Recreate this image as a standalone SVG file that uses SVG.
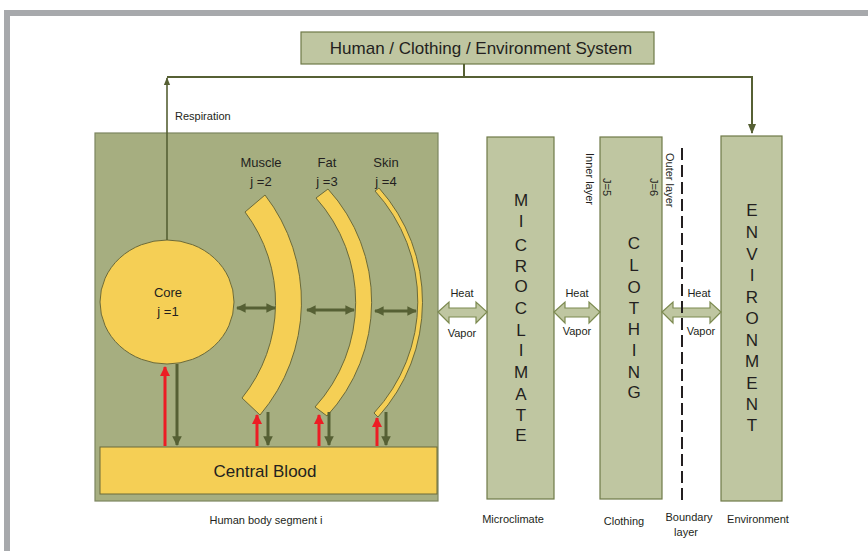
<svg xmlns="http://www.w3.org/2000/svg" width="868" height="551" viewBox="0 0 868 551">
<style>
text{font-family:"Liberation Sans",Arial,sans-serif;fill:#231f20}
.box{fill:#bfc6a1;stroke:#6f7a48;stroke-width:1.2}
.body{fill:#a6ae80;stroke:#7c8560;stroke-width:1.2}
.yel{fill:#f5cf55;stroke:#6b6a3a;stroke-width:1}
.dk{stroke:#566034;stroke-width:3;fill:none}
.rd{stroke:#ed1c24;stroke-width:3;fill:none}
.ln{stroke:#566034;stroke-width:2;fill:none}
.hv{fill:#bfc6a1;stroke:#7c8a50;stroke-width:1.2}
.sm{font-size:11px}
.md{font-size:13px}
.big{font-size:17px;text-anchor:middle}
.c{text-anchor:middle}
</style>
<defs>
<marker id="dh" viewBox="0 0 10 10" refX="9" refY="5" markerWidth="3.2" markerHeight="3.2" orient="auto-start-reverse"><path d="M0,0 L10,5 L0,10 Z" fill="#566034"/></marker>
<marker id="rh" viewBox="0 0 10 10" refX="9" refY="5" markerWidth="3.4" markerHeight="3.4" orient="auto"><path d="M0,0 L10,5 L0,10 Z" fill="#ed1c24"/></marker>
<marker id="th" viewBox="0 0 10 10" refX="9" refY="5" markerWidth="5" markerHeight="5" orient="auto"><path d="M0,1 L10,5 L0,9 Z" fill="#566034"/></marker>
</defs>
<rect width="868" height="551" fill="#ffffff"/>
<path d="M7,551 V13 H868" fill="none" stroke="#a7a9ac" stroke-width="6"/>

<g id="system">
<rect class="box" x="301" y="32" width="353" height="32"/>
<text x="481" y="54" font-size="17" class="c">Human / Clothing / Environment System</text>
</g>

<g id="respiration-label"><text class="sm" x="175" y="120">Respiration</text></g>

<g id="body">
<rect class="body" x="95" y="133" width="343" height="368"/>
</g>

<g id="core">
<ellipse class="yel" cx="167" cy="302" rx="67" ry="62"/>
<text class="md c" x="168" y="297">Core</text>
<text class="md c" x="168" y="316">j =1</text>
</g>

<g id="muscle">
<path class="yel" d="M265,195 A175,175 0 0 1 260,415 L242,398 A151,151 0 0 0 245,212 Z"/>
<text class="md c" x="261" y="167">Muscle</text>
<text class="md c" x="261" y="186">j =2</text>
</g>

<g id="fat">
<path class="yel" d="M328,189 A168,168 0 0 1 327,416 L315,407 A156,156 0 0 0 316,198 Z"/>
<text class="md c" x="327" y="167">Fat</text>
<text class="md c" x="327" y="186">j =3</text>
</g>

<g id="skin">
<path class="yel" d="M379,188 A171,171 0 0 1 378,417 L374,413 A164,164 0 0 0 375,191 Z"/>
<text class="md c" x="386" y="167">Skin</text>
<text class="md c" x="386" y="186">j =4</text>
</g>

<g id="central-blood">
<rect class="yel" x="100" y="447" width="337" height="47"/>
<text x="265" y="477" font-size="17" class="c">Central Blood</text>
</g>
<g id="body-label"><text class="sm c" x="266" y="524">Human body segment i</text></g>

<g id="microclimate">
<rect class="box" x="487" y="137" width="67" height="362"/>
<g class="big">
<text x="521" y="206">M</text><text x="521" y="227">I</text><text x="521" y="251">C</text><text x="521" y="272">R</text><text x="521" y="292">O</text><text x="521" y="314">C</text><text x="521" y="336">L</text><text x="521" y="356">I</text><text x="521" y="378">M</text><text x="521" y="400">A</text><text x="521" y="421">T</text><text x="521" y="441">E</text>
</g>
<text class="sm c" x="513" y="523">Microclimate</text>
</g>

<g id="clothing">
<rect class="box" x="600" y="137" width="62" height="362"/>
<g class="big">
<text x="634" y="249">C</text><text x="634" y="271">L</text><text x="634" y="293">O</text><text x="634" y="314">T</text><text x="634" y="335">H</text><text x="634" y="356">I</text><text x="634" y="378">N</text><text x="634" y="398">G</text>
</g>
<text class="sm" transform="translate(586,153) rotate(90)">Inner layer</text>
<text class="sm" transform="translate(603,178) rotate(90)">J=5</text>
<text class="sm" transform="translate(650,178) rotate(90)">J=6</text>
<text class="sm" transform="translate(666,153) rotate(90)">Outer layer</text>
<text class="sm c" x="624" y="525">Clothing</text>
</g>

<g id="boundary-label">
<text class="sm c" x="689" y="521">Boundary</text>
<text class="sm c" x="686" y="536">layer</text>
</g>

<g id="environment">
<rect class="box" x="721" y="136" width="61" height="365"/>
<g class="big">
<text x="752" y="216">E</text><text x="752" y="238">N</text><text x="752" y="260">V</text><text x="752" y="281">I</text><text x="752" y="303">R</text><text x="752" y="324">O</text><text x="752" y="346">N</text><text x="752" y="367">M</text><text x="752" y="389">E</text><text x="752" y="410">N</text><text x="752" y="431">T</text>
</g>
<text class="sm c" x="758" y="523">Environment</text>
</g>

<g id="connectors">
<path class="ln" d="M464,64 V77"/>
<path class="ln" d="M167,77 H752 V133" marker-end="url(#th)"/>
<path d="M167,240 V78" stroke="#566034" stroke-width="1.6" fill="none" marker-end="url(#th)"/>
<path class="dk" d="M237,308 H275" marker-start="url(#dh)" marker-end="url(#dh)"/>
<path class="dk" d="M307,310 H354" marker-start="url(#dh)" marker-end="url(#dh)"/>
<path class="dk" d="M375,311 H416" marker-start="url(#dh)" marker-end="url(#dh)"/>
<path class="rd" d="M165,446 V367" marker-end="url(#rh)"/>
<path class="dk" d="M177,364 V445" marker-end="url(#dh)"/>
<path class="rd" d="M257,446 V415" marker-end="url(#rh)"/>
<path class="dk" d="M268,412 V445" marker-end="url(#dh)"/>
<path class="rd" d="M319,446 V415" marker-end="url(#rh)"/>
<path class="dk" d="M329,412 V445" marker-end="url(#dh)"/>
<path class="rd" d="M377,446 V418" marker-end="url(#rh)"/>
<path class="dk" d="M386,412 V445" marker-end="url(#dh)"/>
<path class="hv" d="M438,312 L449,302 L449,308 L476,308 L476,302 L487,312 L476,323 L476,317 L449,317 L449,323 Z"/>
<path class="hv" d="M554,312 L565,302 L565,308 L589,308 L589,302 L600,312 L589,323 L589,317 L565,317 L565,323 Z"/>
<path class="hv" d="M662,312 L673,302 L673,308 L710,308 L710,302 L721,312 L710,323 L710,317 L673,317 L673,323 Z"/>
<path d="M682,148 V500" stroke="#231f20" stroke-width="2" stroke-dasharray="12,5" fill="none"/>
</g>

<g id="heat-vapor-labels">
<text class="sm c" x="462" y="297">Heat</text>
<text class="sm c" x="462" y="337">Vapor</text>
<text class="sm c" x="577" y="297">Heat</text>
<text class="sm c" x="577" y="335">Vapor</text>
<text class="sm c" x="699" y="297">Heat</text>
<text class="sm c" x="701" y="335">Vapor</text>
</g>
</svg>
